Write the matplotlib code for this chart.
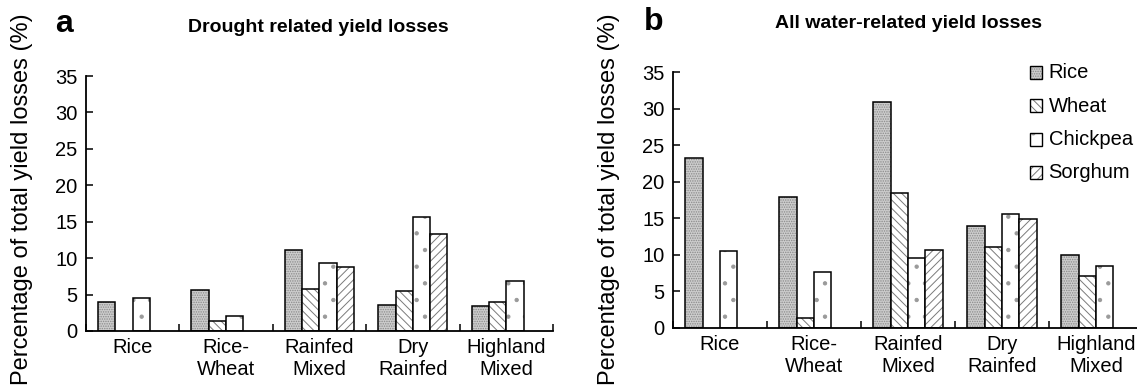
"""
Water-related yield losses by farming system (panels a and b)
"""

import numpy as np
import matplotlib.pyplot as plt
from matplotlib.patches import Patch, Rectangle

plt.rcParams['font.family'] = ['Liberation Sans', 'DejaVu Sans']
plt.rcParams['font.size'] = 14.5
plt.rcParams['hatch.linewidth'] = 0.7

systems = ['Rice', 'Rice-\nWheat', 'Rainfed\nMixed', 'Dry\nRainfed', 'Highland\nMixed']
crops = ['Rice', 'Wheat', 'Chickpea', 'Sorghum']

# drought related losses (%), one list per crop, one value per system
drought_rice = [4.0, 5.6, 11.1, 3.6, 3.4]
drought_wheat = [0.0, 1.3, 5.8, 5.5, 4.0]
drought_chickpea = [4.5, 2.1, 9.4, 15.6, 6.8]
drought_sorghum = [0.0, 0.0, 8.8, 13.3, 0.0]

# all water-related losses (%)
water_rice = [23.2, 17.9, 30.9, 13.9, 10.0]
water_wheat = [0.0, 1.3, 18.5, 11.1, 7.1]
water_chickpea = [10.5, 7.7, 9.6, 15.6, 8.4]
water_sorghum = [0.0, 0.0, 10.6, 14.9, 0.0]

# fill, hatch, hatch colour per crop
styles = [
    ('#cdcdcd', '.......', '#8a8a8a'),
    ('white', '\\\\\\\\', '#7a7a7a'),
    ('white', '.', '#9a9a9a'),
    ('white', '////', '#7a7a7a'),
]


def hatched_bar(ax, x, h, width, style, lw=1.1):
    face, hatch, hcol = style
    # hatch colour follows edgecolor, so draw the fill and the outline separately
    ax.bar(x, h, width=width, facecolor=face, edgecolor=hcol, hatch=hatch, linewidth=0)
    ax.bar(x, h, width=width, facecolor='none', edgecolor='black', linewidth=lw)


def draw_panel(ax, series):
    n = len(systems)
    width = 0.185
    x = np.arange(n) + 0.5
    for i, vals in enumerate(series):
        pos = x + (i - 1.5) * width
        for p, v in zip(pos, vals):
            if v <= 0:
                continue
            hatched_bar(ax, p, v, width, styles[i])

    ax.set_xlim(0, n)
    ax.set_ylim(0, 35)
    ax.set_yticks(range(0, 36, 5))
    ax.set_xticks(x)
    ax.set_xticklabels(systems, linespacing=1.22)
    ax.set_xticks(np.arange(n + 1), minor=True)
    ax.tick_params(axis='x', which='major', length=0, pad=5)
    ax.tick_params(axis='x', which='minor', direction='in', length=5, width=1.1)
    ax.tick_params(axis='y', direction='in', length=5, width=1.1, pad=6)
    for s in ['top', 'right']:
        ax.spines[s].set_visible(False)
    for s in ['left', 'bottom']:
        ax.spines[s].set_linewidth(1.3)


class HatchHandler:
    def legend_artist(self, legend, orig_handle, fontsize, handlebox):
        x0, y0 = handlebox.xdescent, handlebox.ydescent
        w, h = handlebox.width, handlebox.height
        face, hatch, hcol = orig_handle.style
        r1 = Rectangle((x0, y0), w, h, facecolor=face, edgecolor=hcol, hatch=hatch,
                       linewidth=0, transform=handlebox.get_transform())
        r2 = Rectangle((x0, y0), w, h, facecolor='none', edgecolor='black',
                       linewidth=1.0, transform=handlebox.get_transform())
        handlebox.add_artist(r1)
        handlebox.add_artist(r2)
        return r2


def main():
    fig = plt.figure(figsize=(11.37, 3.88), dpi=100)

    ax_a = fig.add_axes([0.0756, 0.147, 0.4107, 0.657])
    ax_b = fig.add_axes([0.5919, 0.155, 0.4134, 0.659])

    draw_panel(ax_a, [drought_rice, drought_wheat, drought_chickpea, drought_sorghum])
    draw_panel(ax_b, [water_rice, water_wheat, water_chickpea, water_sorghum])

    ylab = 'Percentage of total yield losses (%)'
    fig.text(22 / 1137, 0.487, ylab, rotation=90, ha='center', va='center', fontsize=17)
    fig.text(609 / 1137, 0.487, ylab, rotation=90, ha='center', va='center', fontsize=17)

    fig.text(64 / 1137, 1 - 24 / 388, 'a', fontsize=23, fontweight='bold',
             ha='center', va='center')
    fig.text(318 / 1137, 1 - 27 / 388, 'Drought related yield losses', fontsize=14,
             fontweight='bold', ha='center', va='center')
    fig.text(654 / 1137, 1 - 22 / 388, 'b', fontsize=23, fontweight='bold',
             ha='center', va='center')
    fig.text(909 / 1137, 1 - 24 / 388, 'All water-related yield losses', fontsize=14,
             fontweight='bold', ha='center', va='center')

    handles = []
    for i, c in enumerate(crops):
        p = Patch(label=c)
        p.style = styles[i]
        handles.append(p)
    fig.legend(handles=handles, loc='upper left',
               bbox_to_anchor=(1030 / 1137, 1 - 63 / 388), frameon=False,
               handler_map={Patch: HatchHandler()},
               handlelength=0.62, handleheight=0.62, handletextpad=0.3,
               labelspacing=0.72, borderaxespad=0, borderpad=0)

    fig.savefig('out.png', dpi=100)
    plt.close()


if __name__ == "__main__":
    main()
